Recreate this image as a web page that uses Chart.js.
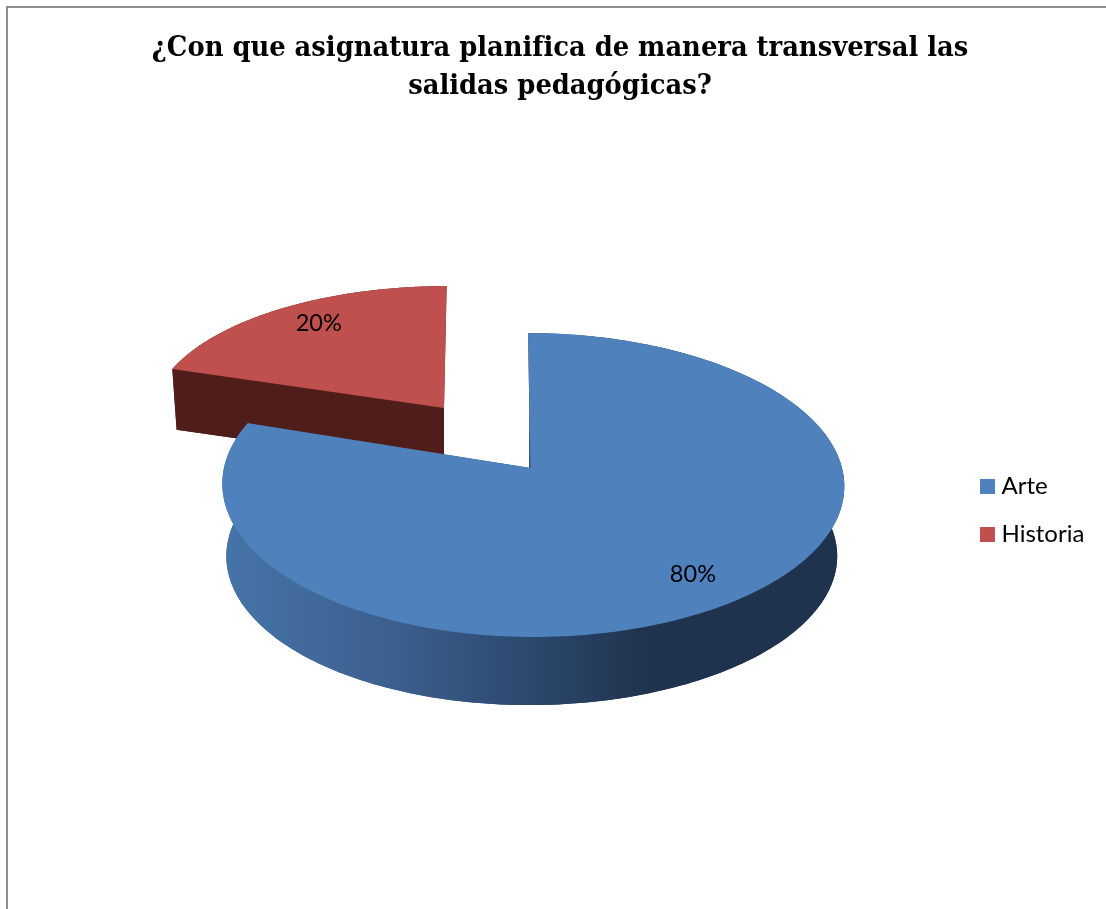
<!DOCTYPE html>
<html lang="es">
<head>
<meta charset="utf-8">
<title>Salidas pedagógicas</title>
<style>
html,body{margin:0;padding:0;background:#fff;overflow:hidden}
#wrap{position:absolute;left:0;top:0;width:1106px;height:909px}
#frame{position:absolute;left:6px;top:6px;right:0;bottom:0;border-left:2px solid #8f8f8f;border-top:2px solid #8f8f8f;pointer-events:none}
</style>
<script src="https://cdn.jsdelivr.net/npm/chart.js@4/dist/chart.umd.min.js"></script>
</head>
<body>
<div id="wrap"><canvas id="c" width="1106" height="909"></canvas><div id="frame"></div></div>
<script>
const titleLines = ['¿Con que asignatura planifica de manera transversal las', 'salidas pedagógicas?'];
const categories = ['Arte', 'Historia'];
const values = [80, 20];
const topColors = ['#4f81bd', '#c0504d'];

// Projection of each exploded slice's flat disc onto the page (3-D perspective look).
const planes = [
  { ax: 530.5, ay: 468, A: 309, B: 150, k: 0.112, m: 0.008, s: 2.7,
    bax: 529.3, bay: 539.5, bA: 303.5, bB: 147, labelR: 0.815, labelTurn: 0 },
  { ax: 444, ay: 408, A: 291, B: 128, k: 0.05, m: 0, s: -2.8,
    bax: 444, bay: 468, bA: 285.5, bB: 126, labelR: 0.82, labelTurn: 0.045 }
];
const wallFills = [
  ctx => { const g = ctx.createLinearGradient(225, 0, 650, 0);
    g.addColorStop(0, '#4674a8'); g.addColorStop(0.4, '#3c5f8d');
    g.addColorStop(0.7, '#2d4a6f'); g.addColorStop(1, '#1f334e'); return g; },
  () => '#4f1e1b'
];

function topPt(p, a, r) {
  const u = r * Math.cos(a), v = r * Math.sin(a), d = 1 - p.k * v;
  return [p.ax + (p.A * u + p.s * v) / (d - p.m * u), p.ay + p.B * v / d];
}
function botPt(p, a, r) {
  const u = r * Math.cos(a), v = r * Math.sin(a), d = 1 - p.k * v;
  return [p.bax + p.bA * u / (d - p.m * u), p.bay + p.bB * v / d];
}
function sweep(arc) {
  const pts = [], n = 240;
  for (let i = 0; i <= n; i++) pts.push(arc.startAngle + (arc.endAngle - arc.startAngle) * i / n);
  return pts;
}
function trace(ctx, pts) {
  ctx.beginPath();
  pts.forEach((q, i) => i ? ctx.lineTo(q[0], q[1]) : ctx.moveTo(q[0], q[1]));
  ctx.closePath();
}

const swatches = topColors.map(color => {
  const cv = document.createElement('canvas');
  cv.width = 15; cv.height = 15;
  const g = cv.getContext('2d');
  g.fillStyle = color;
  g.fillRect(0, 0, 15, 15);
  return cv;
});

const pie3d = {
  id: 'pie3d',
  afterLayout(chart) {
    chart.titleBlock.left += 12;
    chart.legend.top += 112;
    chart.legend.left = 961.5;
  },
  beforeDatasetsDraw(chart) {
    const ctx = chart.ctx, arcs = chart.getDatasetMeta(0).data;
    ctx.save();
    [1, 0].forEach(i => {
      const arc = arcs[i], p = planes[i], angles = sweep(arc);
      const top = angles.map(a => topPt(p, a, 1));
      const bot = angles.map(a => botPt(p, a, 1));
      ctx.fillStyle = wallFills[i](ctx);
      trace(ctx, [[p.bax, p.bay], ...bot, [p.ax, p.ay]]);
      ctx.fill();
      trace(ctx, [...top, ...bot.slice().reverse()]);
      ctx.fill();
      trace(ctx, [[p.ax, p.ay], top[top.length - 1], bot[bot.length - 1], [p.bax, p.bay]]);
      ctx.fill();
      trace(ctx, [[p.ax, p.ay], top[0], bot[0], [p.bax, p.bay]]);
      ctx.fill();
      ctx.fillStyle = topColors[i];
      trace(ctx, [[p.ax, p.ay], ...top]);
      ctx.fill();
    });
    const total = values.reduce((s, v) => s + v, 0);
    ctx.font = '23.5px Lato';
    ctx.fillStyle = '#000';
    ctx.textAlign = 'center';
    ctx.textBaseline = 'middle';
    arcs.forEach((arc, i) => {
      const p = planes[i];
      const q = topPt(p, (arc.startAngle + arc.endAngle) / 2 + p.labelTurn, p.labelR);
      ctx.fillText(Math.round(values[i] / total * 100) + '%', q[0], q[1]);
    });
    ctx.restore();
    return false;
  }
};

new Chart(document.getElementById('c'), {
  type: 'pie',
  data: {
    labels: categories,
    datasets: [{ data: values, backgroundColor: topColors, borderWidth: 0 }]
  },
  options: {
    responsive: false,
    animation: false,
    layout: { padding: { left: 12, right: 10, top: 0, bottom: 0 } },
    plugins: {
      tooltip: { enabled: false },
      title: {
        display: true,
        text: titleLines,
        color: '#000',
        font: { family: '"DejaVu Serif Condensed", "DejaVu Serif"', size: 28.7, weight: 'bold', lineHeight: 1.32 },
        padding: { top: 30, bottom: 6 }
      },
      legend: {
        position: 'right',
        labels: {
          usePointStyle: true, pointStyleWidth: 4, boxHeight: 15, padding: 24,
          color: '#000', font: { family: 'Lato', size: 24 },
          generateLabels(chart) {
            return Chart.overrides.pie.plugins.legend.labels.generateLabels(chart)
              .map((item, i) => ({ ...item, pointStyle: swatches[i] }));
          }
        }
      }
    }
  },
  plugins: [pie3d]
});
</script>
</body>
</html>
